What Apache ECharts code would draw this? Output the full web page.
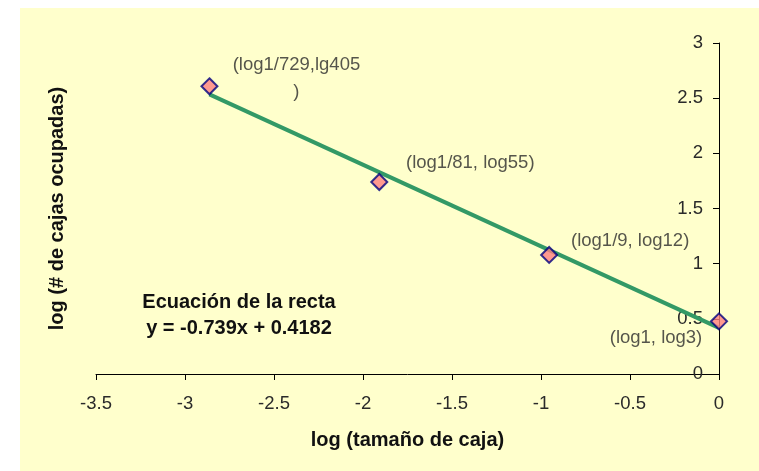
<!DOCTYPE html>
<html>
<head>
<meta charset="utf-8">
<script src="https://cdn.jsdelivr.net/npm/echarts@6/dist/echarts.min.js"></script>
<style>
html,body{margin:0;padding:0;background:#ffffff;}
#wrap{position:absolute;left:20px;top:8px;width:739px;height:463px;background:#FFFFCC;}
#c{position:absolute;left:0;top:0;width:759px;height:471px;}
</style>
</head>
<body>
<div id="wrap"></div>
<div id="c"></div>
<script>
// Data
var xValues = [-2.8627, -1.9085, -0.9542, 0];
var yValues = [2.6075, 1.7404, 1.0792, 0.4771];
var pointLabels = ['(log1/729,lg405\n)', '(log1/81, log55)', '(log1/9, log12)', '(log1, log3)'];
var fitX = [-2.8627, 0];
var fitY = [2.5338, 0.4182];
var xTicks = [-3.5, -3, -2.5, -2, -1.5, -1, -0.5, 0];
var yTicks = [0, 0.5, 1, 1.5, 2, 2.5, 3];
var xTitle = 'log (tamaño de caja)';
var yTitle = 'log (# de cajas ocupadas)';
var eqLines = ['Ecuación de la recta', 'y = -0.739x + 0.4182'];

var labelOffsets = [[87, -8], [91, -19], [81, -14], [-63, 17]];

var chart = echarts.init(document.getElementById('c'), null, {renderer: 'canvas'});

var fontFam = '"Liberation Sans", Arial, sans-serif';

var scatterData = xValues.map(function (x, i) {
  return {
    value: [x, yValues[i]],
    label: {
      show: true,
      formatter: pointLabels[i],
      position: 'inside',
      offset: labelOffsets[i],
      align: 'center',
      verticalAlign: 'middle',
      color: '#2a2a2a',
      fontSize: 18.5,
      lineHeight: 27,
      fontFamily: fontFam
    }
  };
});

var lineData = fitX.map(function (x, i) { return [x, fitY[i]]; });

chart.setOption({
  backgroundColor: 'transparent',
  animation: false,
  grid: {left: 96, right: 40, top: 43, bottom: 97, containLabel: false, outerBoundsMode: 'none'},
  xAxis: {
    type: 'value',
    min: xTicks[0],
    max: xTicks[xTicks.length - 1],
    interval: 0.5,
    name: xTitle,
    nameLocation: 'middle',
    nameGap: 56,
    nameTextStyle: {fontSize: 20, fontWeight: 'bold', color: '#111111', fontFamily: fontFam},
    axisLine: {onZero: false, lineStyle: {color: '#000000', width: 1}},
    axisTick: {show: true, inside: false, length: 6, lineStyle: {color: '#000000'}},
    axisLabel: {color: '#2a2a2a', fontSize: 18.5, margin: 20, fontFamily: fontFam,
      showMinLabel: true, showMaxLabel: true, hideOverlap: false, interval: 0,
      formatter: function (v) { return String(v); }},
    splitLine: {show: false}
  },
  yAxis: {
    type: 'value',
    min: yTicks[0],
    max: yTicks[yTicks.length - 1],
    interval: 0.5,
    position: 'right',
    name: yTitle,
    nameLocation: 'middle',
    nameGap: -672,
    nameRotate: 90,
    nameTextStyle: {fontSize: 20, fontWeight: 'bold', color: '#111111', fontFamily: fontFam},
    axisLine: {show: true, onZero: false, lineStyle: {color: '#000000', width: 1}},
    axisTick: {show: true, inside: true, length: 6, lineStyle: {color: '#000000'}},
    axisLabel: {inside: true, color: '#2a2a2a', fontSize: 18.5, margin: 16, fontFamily: fontFam,
      showMinLabel: true, showMaxLabel: true,
      formatter: function (v) { return String(v); }},
    splitLine: {show: false}
  },
  graphic: [
    {
      type: 'text', id: 'eq1', x: 239, y: 302,
      style: {text: eqLines[0], fill: '#111111', align: 'center', verticalAlign: 'middle',
        font: 'bold 20px "Liberation Sans", Arial, sans-serif'}
    },
    {
      type: 'text', id: 'eq2', x: 239, y: 328,
      style: {text: eqLines[1], fill: '#111111', align: 'center', verticalAlign: 'middle',
        font: 'bold 20px "Liberation Sans", Arial, sans-serif'}
    }
  ],
  series: [
    {
      type: 'line',
      data: lineData,
      symbol: 'none',
      lineStyle: {color: '#339966', width: 4},
      z: 2,
      silent: true
    },
    {
      type: 'scatter',
      data: scatterData,
      symbol: 'diamond',
      symbolSize: 16,
      itemStyle: {color: '#FF8080', borderColor: '#000080', borderWidth: 2},
      z: 3
    }
  ]
});
</script>
</body>
</html>
